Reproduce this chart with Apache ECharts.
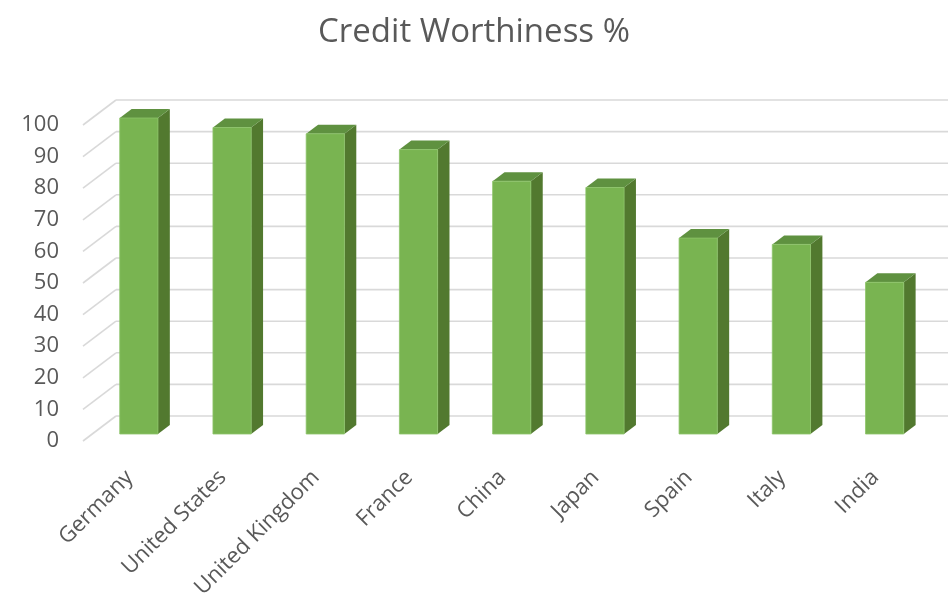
<!DOCTYPE html>
<html>
<head>
<meta charset="utf-8">
<title>Credit Worthiness %</title>
<script src="https://cdn.jsdelivr.net/npm/echarts@6/dist/echarts.min.js"></script>
<style>
  html, body { margin: 0; padding: 0; background: #fff; }
  #chart { width: 948px; height: 608px; }
</style>
</head>
<body>
<div id="chart"></div>
<script>
// Countries and their credit worthiness scores (%)
const countries = ['Germany', 'United States', 'United Kingdom', 'France', 'China', 'Japan', 'Spain', 'Italy', 'India'];
const scores = [100, 97, 95, 90, 80, 78, 62, 60, 48];
// Value-axis ticks used for the back-wall gridlines
const yTicks = [0, 10, 20, 30, 40, 50, 60, 70, 80, 90, 100];

// Oblique depth of the 3D box (pixels): full floor depth, and the slice the bars occupy
const DEPTH_X = 33, DEPTH_Y = -25;
const BAR_FRONT = 0.28, BAR_BACK = 0.64;
const BAR_RATIO = 0.41;

const FONT = '"Open Sans", "Noto Sans", sans-serif';
const TEXT_COLOR = '#595959';

const chart = echarts.init(document.getElementById('chart'), null, { renderer: 'canvas' });

// Gridlines: a short diagonal on the floor edge, then a horizontal line on the back wall
function renderGrid(params, api) {
  const v = api.value(0);
  const p = api.coord([0, v]);
  const band = api.size([1, 0])[0];
  const x0 = p[0] - band / 2;
  const xEnd = api.coord([countries.length - 1, v])[0] + band / 2 + DEPTH_X + 10;
  const y0 = p[1];
  const style = { stroke: '#d9d9d9', lineWidth: 1.6, fill: null };
  return {
    type: 'group',
    children: [
      { type: 'line', shape: { x1: x0, y1: y0, x2: x0 + DEPTH_X, y2: y0 + DEPTH_Y }, style: style },
      { type: 'line', shape: { x1: x0 + DEPTH_X, y1: y0 + DEPTH_Y, x2: xEnd, y2: y0 + DEPTH_Y }, style: style }
    ]
  };
}

// 3D column: front face, right side face and top face
function renderBar(params, api) {
  const idx = api.value(0);
  const top = api.coord([idx, api.value(1)]);
  const base = api.coord([idx, 0]);
  const band = api.size([1, 0])[0];
  const w = band * BAR_RATIO;
  const ox = BAR_FRONT * DEPTH_X, oy = BAR_FRONT * DEPTH_Y;
  const dx = (BAR_BACK - BAR_FRONT) * DEPTH_X, dy = (BAR_BACK - BAR_FRONT) * DEPTH_Y;
  const xL = top[0] - w / 2 + ox, xR = top[0] + w / 2 + ox;
  const yT = top[1] + oy, yB = base[1] + oy;
  return {
    type: 'group',
    children: [
      { type: 'polygon',
        shape: { points: [[xR, yB], [xR, yT], [xR + dx, yT + dy], [xR + dx, yB + dy]] },
        style: { fill: '#52792f' } },
      { type: 'polygon',
        shape: { points: [[xL, yT], [xR, yT], [xR + dx, yT + dy], [xL + dx, yT + dy]] },
        style: { fill: '#5f9140' } },
      { type: 'rect',
        shape: { x: xL, y: yT, width: w, height: yB - yT },
        style: { fill: '#79b451', stroke: '#8dc46a', lineWidth: 0.8 } }
    ]
  };
}

chart.setOption({
  animation: false,
  backgroundColor: '#ffffff',
  title: {
    text: 'Credit Worthiness %',
    left: 'center',
    top: 11,
    textStyle: { fontFamily: FONT, fontSize: 33, fontWeight: 'normal', color: TEXT_COLOR }
  },
  grid: { left: 83, right: 26, top: 125, bottom: 167, containLabel: false },
  xAxis: {
    type: 'category',
    data: countries,
    boundaryGap: true,
    axisLine: { show: false },
    axisTick: { show: false },
    splitLine: { show: false },
    axisLabel: {
      rotate: 45,
      margin: 33,
      interval: 0,
      fontFamily: FONT,
      fontSize: 22,
      color: TEXT_COLOR
    }
  },
  yAxis: {
    type: 'value',
    min: 0,
    max: 100,
    interval: 10,
    axisLine: { show: false },
    axisTick: { show: false },
    splitLine: { show: false },
    axisLabel: { margin: 24, fontFamily: FONT, fontSize: 22, color: TEXT_COLOR }
  },
  series: [
    {
      type: 'custom',
      name: 'grid',
      silent: true,
      clip: false,
      renderItem: renderGrid,
      encode: { y: 0 },
      data: yTicks.map(t => [t]),
      z: 1
    },
    {
      type: 'custom',
      name: 'Credit Worthiness %',
      clip: false,
      renderItem: renderBar,
      encode: { x: 0, y: 1 },
      data: scores.map((s, i) => [i, s]),
      z: 2
    }
  ]
});
</script>
</body>
</html>
